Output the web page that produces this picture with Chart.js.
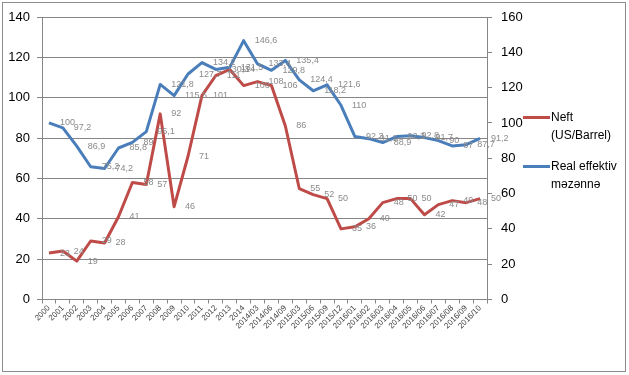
<!DOCTYPE html>
<html>
<head>
<meta charset="utf-8">
<script src="https://cdn.jsdelivr.net/npm/chart.js@4.4.0/dist/chart.umd.min.js"></script>
<style>
  body { margin: 0; background: #fff; }
  #wrap { position: relative; width: 629px; height: 375px; }
  #frame { position: absolute; left: 2px; top: 2px; width: 622px; height: 368px; border: 1px solid #8c8c8c; pointer-events: none; }
  .leg { position: absolute; left: 523px; font: 12px "Liberation Sans", Arial, sans-serif; color: #000; line-height: 17.5px; }
  .leg .sw { position: absolute; left: 0; top: 7px; width: 27px; height: 3px; }
  .leg .txt { margin-left: 28px; }
</style>
</head>
<body>
<div id="wrap">
  <canvas id="chart" width="629" height="375"></canvas>
  <div id="frame"></div>
  <div class="leg" style="top:109px"><div class="sw" style="background:#BE4B48"></div><div class="txt">Neft<br>(US/Barrel)</div></div>
  <div class="leg" style="top:158px"><div class="sw" style="background:#4A7EBB"></div><div class="txt">Real effektiv<br>məzənnə</div></div>
</div>
<script>
const categories = ['2000', '2001', '2002', '2003', '2004', '2005', '2006', '2007', '2008', '2009',
  '2010', '2011', '2012', '2013', '2014', '2014/03', '2014/06', '2014/09', '2015/03', '2015/06',
  '2015/09', '2015/12', '2016/01', '2016/02', '2016/03', '2016/04', '2016/05', '2016/06', '2016/07',
  '2016/08', '2016/09', '2016/10'];

// left axis, US dollars per barrel
const neft = [23, 24, 19, 29, 28, 41, 58, 57, 92, 46, 71, 101, 111, 114, 106, 108, 106, 86, 55, 52,
  50, 35, 36, 40, 48, 50, 50, 42, 47, 49, 48, 50];

// right axis, index
const realEffektiv = [100, 97.2, 86.9, 75.2, 74.2, 85.8, 89, 95.1, 121.8, 115.5, 127.7, 134.2, 130.3,
  131.5, 146.6, 133.4, 129.8, 135.4, 124.4, 118.2, 121.6, 110, 92.3, 91.1, 88.9, 92.3, 92.8, 91.7,
  90, 87, 87.7, 91.2];

const leftTicks = [0, 20, 40, 60, 80, 100, 120, 140];
const rightTicks = [0, 20, 40, 60, 80, 100, 120, 140, 160];

Chart.defaults.font.family = '"Liberation Sans", Arial, sans-serif';

// draws the value next to each point, like the Excel data labels
const valueLabels = {
  id: 'valueLabels',
  afterDatasetsDraw(chart) {
    const ctx = chart.ctx;
    ctx.save();
    ctx.font = '9px "Liberation Sans", Arial, sans-serif';
    ctx.fillStyle = '#8a8a8a';
    ctx.textBaseline = 'middle';
    ctx.textAlign = 'left';
    chart.data.datasets.forEach((ds, i) => {
      chart.getDatasetMeta(i).data.forEach((pt, j) => {
        ctx.fillText(String(ds.data[j]).replace('.', ','), pt.x + 11, pt.y);
      });
    });
    ctx.restore();
  }
};

const gridColor = '#868686';

new Chart(document.getElementById('chart'), {
  type: 'line',
  data: {
    labels: categories,
    datasets: [
      {
        label: 'Neft (US/Barrel)',
        data: neft,
        yAxisID: 'y',
        borderColor: '#BE4B48',
        borderWidth: 3,
        pointRadius: 0,
        tension: 0,
        borderJoinStyle: 'round',
        order: 2,
      },
      {
        label: 'Real effektiv məzənnə',
        data: realEffektiv,
        yAxisID: 'y1',
        borderColor: '#4A7EBB',
        borderWidth: 3,
        pointRadius: 0,
        tension: 0,
        borderJoinStyle: 'round',
        order: 1,
      },
    ],
  },
  options: {
    responsive: false,
    animation: false,
    layout: { padding: { top: 17, left: 0, right: 0, bottom: 0 } },
    plugins: {
      legend: { display: false },
      tooltip: { enabled: false },
    },
    scales: {
      x: {
        offset: true,
        grid: { offset: true, drawOnChartArea: false, color: gridColor, tickLength: 4 },
        border: { color: gridColor },
        ticks: { autoSkip: false, minRotation: 45, maxRotation: 45, color: '#404040', font: { size: 8 }, padding: 0 },
        afterFit(scale) { scale.height = 75.5; },
      },
      y: {
        position: 'left',
        min: 0,
        max: 140,
        afterBuildTicks(scale) { scale.ticks = leftTicks.map(v => ({ value: v })); },
        ticks: { color: '#000', font: { size: 13 }, padding: 7 },
        grid: { color: gridColor, tickLength: 5 },
        border: { color: gridColor },
        afterFit(scale) { scale.width = 42; },
      },
      y1: {
        position: 'right',
        min: 0,
        max: 160,
        afterBuildTicks(scale) { scale.ticks = rightTicks.map(v => ({ value: v })); },
        ticks: { color: '#000', font: { size: 13 }, padding: 9 },
        grid: { drawOnChartArea: false, color: gridColor, tickLength: 5 },
        border: { color: gridColor },
        afterFit(scale) { scale.width = 142; },
      },
    },
  },
  plugins: [valueLabels],
});
</script>
</body>
</html>
